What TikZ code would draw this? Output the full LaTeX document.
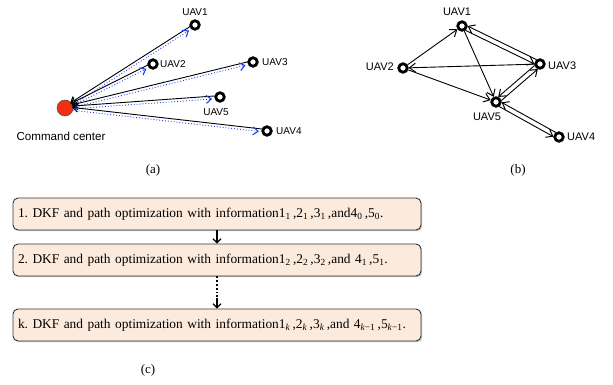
\documentclass[tikz,border=0pt]{standalone}
\usepackage{fontspec}
\setmainfont{Liberation Serif}
\newfontfamily\arialf{Liberation Sans}
\usetikzlibrary{arrows.meta,calc,shadows}
\definecolor{ccred}{HTML}{F2300F}
\definecolor{dblue}{HTML}{1E40F0}
\definecolor{boxfill}{HTML}{FCEBDD}
\frenchspacing
\begin{document}
\begin{tikzpicture}[x=1pt,y=-1pt,
  ring/.style={circle,draw=black,line width=2.8pt,fill=white,inner sep=0pt,minimum size=8.5pt},
  lab/.style={font=\arialf\fontsize{10}{12}\selectfont,inner sep=0pt},
  labb/.style={font=\arialf\fontsize{11}{13}\selectfont,inner sep=0pt},
  blk/.style={draw=black,line width=0.9pt,-{Straight Barb[length=5pt,width=8pt,line width=1pt]}},
  blu/.style={draw=dblue,line width=0.9pt,dotted,-{Straight Barb[length=5pt,width=8pt,line width=1.1pt,sep=0pt]}},
  barr/.style={draw=black,line width=0.9pt,-{Straight Barb[length=6pt,width=9pt,line width=1pt]}},
  stepbox/.style={draw=black!80,line width=0.9pt,rounded corners=5pt,fill=boxfill,
    minimum width=408pt,minimum height=32pt,text width=398pt,align=left,inner sep=0pt,
    font=\fontsize{13.4}{15}\selectfont,
    drop shadow={shadow xshift=1.2pt,shadow yshift=-1.2pt,opacity=0.45}},
  flow/.style={draw=black,line width=1.6pt,-{Straight Barb[length=4pt,width=8pt,line width=1.2pt]}},
  captxt/.style={font=\fontsize{13}{15}\selectfont,inner sep=0pt}
]
\useasboundingbox (0,0) rectangle (613,385);

% ---------- panel (a)
\node[circle,draw=black!70,line width=0.5pt,fill=ccred,minimum size=16pt,inner sep=0pt] (cc) at (65,108) {};
\node[ring] (a1) at (195,25) {};
\node[ring] (a2) at (153,64) {};
\node[ring] (a3) at (253,62) {};
\node[ring] (a5) at (220,97) {};
\node[ring] (a4) at (267,131) {};
\node[lab] (la1) at (195,12) {UAV1};
\node[lab,anchor=west] (la2) at (160,64) {UAV2};
\node[lab,anchor=west] (la3) at (262,62) {UAV3};
\node[lab] (la5) at (216,112) {UAV5};
\node[lab,anchor=west] (la4) at (276,131) {UAV4};
\node[font=\arialf\fontsize{11.6}{13}\selectfont,inner sep=0pt] (lcc) at (61,136) {Command center};

\foreach \u in {a1,a2,a3,a5,a4}{
  \draw[blk,shorten <=5pt,shorten >=7pt] ($(\u)!1.4pt!-90:(cc)$) -- ($(cc)!1.4pt!90:(\u)$);
  \draw[blu,shorten <=8pt,shorten >=8pt] ($(cc)!1.4pt!-90:(\u)$) -- ($(\u)!1.4pt!90:(cc)$);
}

% ---------- panel (b)
\node[ring] (b1) at (462,26) {};
\node[ring] (b2) at (403,68) {};
\node[ring] (b3) at (540,64) {};
\node[ring] (b5) at (496,102) {};
\node[ring] (b4) at (559,137) {};
\node[labb] (lb1) at (457,12) {UAV1};
\node[labb,anchor=east] (lb2) at (394,67) {UAV2};
\node[labb,anchor=west] (lb3) at (548,66) {UAV3};
\node[labb] (lb5) at (487,117) {UAV5};
\node[labb,anchor=west] (lb4) at (567,137) {UAV4};

\draw[barr] (b2) -- (b1);
\draw[barr] (b3) -- (b2);
\draw[barr] (b2) -- (b5);
\draw[barr] (b1) -- (b5);
\draw[barr,shorten <=5pt,shorten >=5pt] ($(b1)!2.4pt!-90:(b3)$) -- ($(b3)!2.4pt!90:(b1)$);
\draw[barr,shorten <=5pt,shorten >=5pt] ($(b3)!2.4pt!-90:(b1)$) -- ($(b1)!2.4pt!90:(b3)$);
\draw[barr,shorten <=5pt,shorten >=5pt] ($(b5)!2.4pt!-90:(b3)$) -- ($(b3)!2.4pt!90:(b5)$);
\draw[barr,shorten <=5pt,shorten >=5pt] ($(b3)!2.4pt!-90:(b5)$) -- ($(b5)!2.4pt!90:(b3)$);
\draw[barr,shorten <=5pt,shorten >=5pt] ($(b5)!2.4pt!-90:(b4)$) -- ($(b4)!2.4pt!90:(b5)$);
\draw[barr,shorten <=5pt,shorten >=5pt] ($(b4)!2.4pt!-90:(b5)$) -- ($(b5)!2.4pt!90:(b4)$);

% ---------- panel (c)
\node[stepbox] (s1) at (217,214) {1. DKF and path optimization with information1\textsubscript{1}\,,2\textsubscript{1}\,,3\textsubscript{1}\,,and4\textsubscript{0}\,,5\textsubscript{0}.};
\node[stepbox] (s2) at (217,260) {2. DKF and path optimization with information1\textsubscript{2}\,,2\textsubscript{2}\,,3\textsubscript{2}\,,and 4\textsubscript{1}\,,5\textsubscript{1}.};
\node[stepbox] (s3) at (217,325) {k. DKF and path optimization with information1\textsubscript{\textit{k}}\,,2\textsubscript{\textit{k}}\,,3\textsubscript{\textit{k}}\,,and 4\textsubscript{\textit{k}−1}\,,5\textsubscript{\textit{k}−1}.};
\coordinate (dm) at (217,298);
\draw[flow] (s1.south) -- (s2.north);
\draw[draw=black,line width=1.8pt,dotted] (s2.south) -- (dm);
\draw[flow] (dm) -- (s3.north);

% captions
\node[captxt] (capa) at (153,170) {(a)};
\node[captxt] (capb) at (518,170) {(b)};
\node[captxt] (capc) at (148,370) {(c)};
\end{tikzpicture}
\end{document}
